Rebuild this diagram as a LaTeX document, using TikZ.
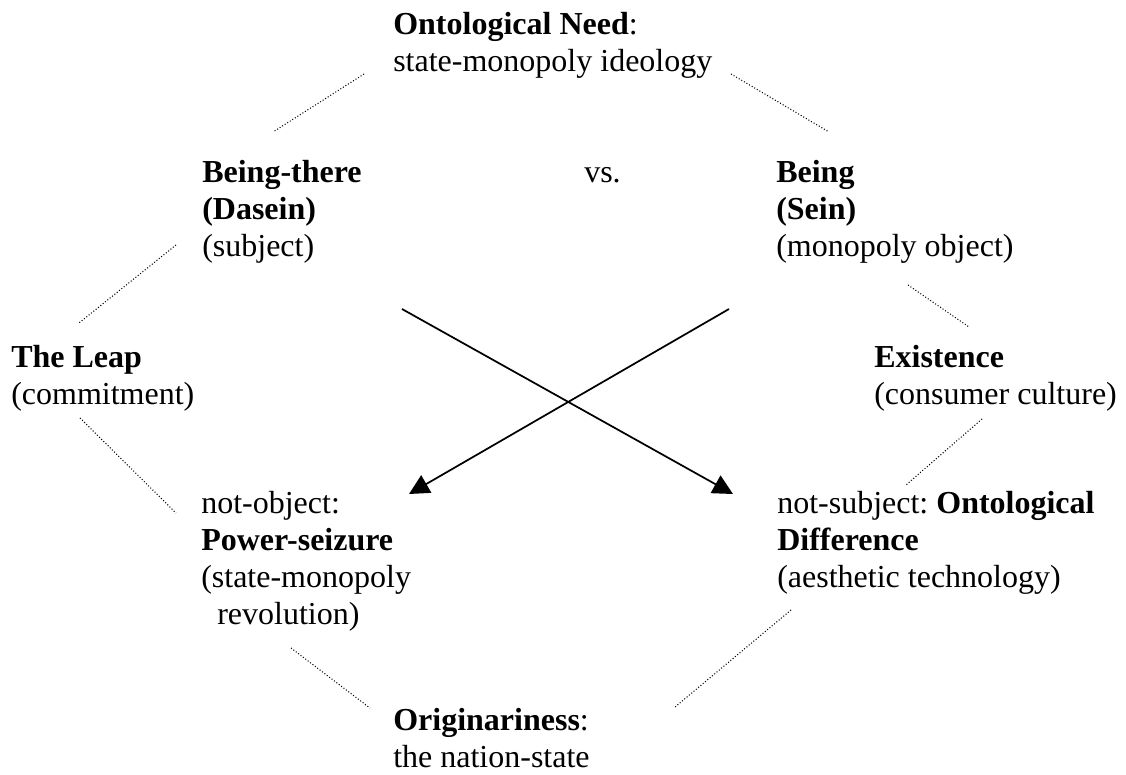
\documentclass[tikz,border=0pt]{standalone}
\usepackage{fontspec}
\setmainfont{Liberation Serif}
\usetikzlibrary{arrows.meta}

\tikzset{
    label/.style={anchor=base west, align=left, inner sep=0pt,
        font=\fontsize{24}{27.75}\selectfont\frenchspacing},
    link/.style={line width=0.8pt, dash pattern=on 0.75pt off 1.5pt},
    flow/.style={line width=1.3pt, -{Triangle[length=15pt,width=15pt]}}
}

\begin{document}
\begin{tikzpicture}[x=0.75pt, y=-0.75pt]
    \useasboundingbox (0,0) rectangle (1126,774);

    % Text blocks (placed at the baseline of their last line)
    \node[label] (need)   at (393,71)  {\textbf{Ontological Need}:\\state-monopoly ideology};
    \node[label] (there)  at (202,256) {\textbf{Being-there}\\\textbf{(Dasein)}\\(subject)};
    \node[label] (vs)     at (584,182) {vs.};
    \node[label] (being)  at (776,256) {\textbf{Being}\\\textbf{(Sein)}\\(monopoly object)};
    \node[label] (leap)   at (11,404)  {\textbf{The Leap}\\(commitment)};
    \node[label] (exist)  at (874,404) {\textbf{Existence}\\(consumer culture)};
    \node[label] (seize)  at (201,624) {not-object:\\\textbf{Power-seizure}\\(state-monopoly\\\hspace*{12pt}revolution)};
    \node[label] (diff)   at (777,587) {not-subject: \textbf{Ontological}\\\textbf{Difference}\\(aesthetic technology)};
    \node[label] (origin) at (393,767) {\textbf{Originariness}:\\the nation-state};

    % Ends of the dotted links
    \coordinate (needW)  at (364,74);   \coordinate (thereN) at (273,132);
    \coordinate (needE)  at (731,74);   \coordinate (beingN) at (829,132);
    \coordinate (thereS) at (176,245);  \coordinate (leapN)  at (79,323);
    \coordinate (beingS) at (908,285);  \coordinate (existN) at (969,327);
    \coordinate (leapS)  at (80,418);   \coordinate (seizeW) at (176,513);
    \coordinate (existS) at (982,419);  \coordinate (diffN)  at (906,485);
    \coordinate (seizeS) at (291,648);  \coordinate (originW) at (370,708);
    \coordinate (diffS)  at (791,610);  \coordinate (originE) at (675,707);

    % Dotted links round the square
    \draw[link] (needW) -- (thereN);
    \draw[link] (needE) -- (beingN);
    \draw[link] (thereS) -- (leapN);
    \draw[link] (beingS) -- (existN);
    \draw[link] (leapS) -- (seizeW);
    \draw[link] (existS) -- (diffN);
    \draw[link] (seizeS) -- (originW);
    \draw[link] (diffS) -- (originE);

    % Crossing arrows
    \coordinate (thereX) at (402,309);  \coordinate (diffX)  at (733,494);
    \coordinate (beingX) at (729,309);  \coordinate (seizeX) at (409,494);
    \draw[flow] (thereX) -- (diffX);
    \draw[flow] (beingX) -- (seizeX);
\end{tikzpicture}
\end{document}
